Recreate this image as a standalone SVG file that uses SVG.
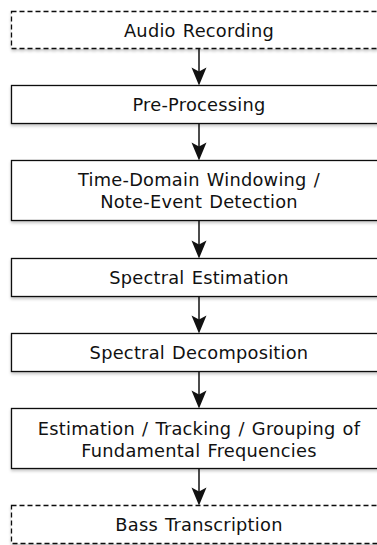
<svg xmlns="http://www.w3.org/2000/svg" width="377" height="545" viewBox="0 0 377 545">
  <style>
    .box { fill: #ffffff; stroke: #111111; stroke-width: 1.3; filter: url(#shadow); }
    .dashed { stroke-dasharray: 5 3; }
    .label { font-family: "DejaVu Sans", "Verdana", sans-serif; font-size: 17.8px; letter-spacing: 0.25px; word-spacing: 1.2px; fill: #111111; text-anchor: middle; }
    .edge { stroke: #111111; stroke-width: 1.5; fill: none; }
    .head { fill: #111111; stroke: none; }
  </style>
  <defs>
    <filter id="shadow" x="-5%" y="-20%" width="110%" height="150%">
      <feDropShadow dx="0" dy="2" stdDeviation="1.8" flood-color="#000000" flood-opacity="0.22"/>
    </filter>
  </defs>
  <rect x="0" y="0" width="377" height="545" fill="#ffffff"/>

  <g id="audio-recording">
    <rect class="box dashed" x="11.5" y="11.5" width="376" height="37"/>
    <text class="label" x="199" y="36.5">Audio Recording</text>
  </g>
  <g id="pre-processing">
    <rect class="box" x="11.5" y="85.5" width="376" height="38"/>
    <text class="label" x="199" y="110.5">Pre-Processing</text>
  </g>
  <g id="windowing">
    <rect class="box" x="11.5" y="160.5" width="376" height="60"/>
    <text class="label" x="199" y="185.5">Time-Domain Windowing /</text>
    <text class="label" x="199" y="207.5">Note-Event Detection</text>
  </g>
  <g id="spectral-estimation">
    <rect class="box" x="11.5" y="258.5" width="376" height="38"/>
    <text class="label" x="199" y="283.5">Spectral Estimation</text>
  </g>
  <g id="spectral-decomposition">
    <rect class="box" x="11.5" y="333.5" width="376" height="38"/>
    <text class="label" x="199" y="358.5">Spectral Decomposition</text>
  </g>
  <g id="f0-tracking">
    <rect class="box" x="11.5" y="408.5" width="376" height="60"/>
    <text class="label" x="199" y="435">Estimation / Tracking / Grouping of</text>
    <text class="label" x="199" y="457.3">Fundamental Frequencies</text>
  </g>
  <g id="bass-transcription">
    <rect class="box dashed" x="11.5" y="505.5" width="376" height="38"/>
    <text class="label" x="199" y="530.5">Bass Transcription</text>
  </g>

  <g id="connectors">
    <line class="edge" x1="199" y1="49" x2="199" y2="72"/>
    <path class="head" d="M191.5,67.5 L199,85.5 L206.5,67.5 L199,71.5 Z"/>
    <line class="edge" x1="199" y1="124" x2="199" y2="147"/>
    <path class="head" d="M191.5,142.5 L199,160.5 L206.5,142.5 L199,146.5 Z"/>
    <line class="edge" x1="199" y1="221" x2="199" y2="245"/>
    <path class="head" d="M191.5,240.5 L199,258.5 L206.5,240.5 L199,244.5 Z"/>
    <line class="edge" x1="199" y1="297" x2="199" y2="320"/>
    <path class="head" d="M191.5,315.5 L199,333.5 L206.5,315.5 L199,319.5 Z"/>
    <line class="edge" x1="199" y1="372" x2="199" y2="395"/>
    <path class="head" d="M191.5,390.5 L199,408.5 L206.5,390.5 L199,394.5 Z"/>
    <line class="edge" x1="199" y1="469" x2="199" y2="492"/>
    <path class="head" d="M191.5,487.5 L199,505.5 L206.5,487.5 L199,491.5 Z"/>
  </g>
</svg>
